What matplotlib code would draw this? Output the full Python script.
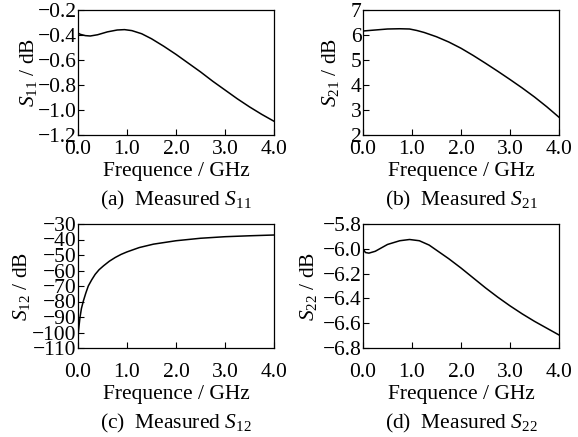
import matplotlib
matplotlib.use("Agg")
import matplotlib.pyplot as plt
from matplotlib.ticker import FuncFormatter

DPI = 100
FONT_SIZE = 15.5

plt.rcParams["font.family"] = ["Liberation Serif", "DejaVu Serif"]
plt.rcParams["mathtext.fontset"] = "custom"
plt.rcParams["mathtext.rm"] = "Liberation Serif"
plt.rcParams["mathtext.it"] = "Liberation Serif:italic"
plt.rcParams["font.size"] = FONT_SIZE

freq_s11 = [0.0, 0.05, 0.15, 0.25, 0.4, 0.6, 0.8, 0.95, 1.1, 1.3, 1.5, 1.75,
            2.0, 2.25, 2.5, 2.75, 3.0, 3.25, 3.5, 3.75, 4.0]
s11 = [-0.385, -0.395, -0.405, -0.408, -0.398, -0.375, -0.36, -0.357, -0.365,
       -0.39, -0.43, -0.49, -0.555, -0.625, -0.695, -0.77, -0.84, -0.91,
       -0.975, -1.035, -1.09]

freq_s21 = [0.0, 0.25, 0.5, 0.75, 0.95, 1.1, 1.25, 1.5, 1.75, 2.0, 2.25, 2.5,
            2.75, 3.0, 3.25, 3.5, 3.75, 4.0]
s21 = [6.16, 6.2, 6.24, 6.25, 6.24, 6.18, 6.1, 5.93, 5.72, 5.47, 5.18, 4.87,
       4.55, 4.22, 3.88, 3.52, 3.13, 2.71]

freq_s12 = [0.0, 0.02, 0.04, 0.07, 0.11, 0.16, 0.21, 0.28, 0.35, 0.43, 0.52,
            0.64, 0.76, 0.88, 1.0, 1.25, 1.54, 2.0, 2.5, 3.0, 3.5, 4.0]
s12 = [-102, -96, -90.4, -84.5, -79.6, -74.5, -70, -66, -62.5, -59.5, -57,
       -54, -51.6, -49.6, -48, -45.2, -43, -40.8, -39.2, -38.2, -37.6, -37.1]

freq_s22 = [0.0, 0.05, 0.12, 0.25, 0.5, 0.75, 0.95, 1.15, 1.35, 1.55, 1.75,
            2.0, 2.25, 2.5, 2.75, 3.0, 3.25, 3.5, 3.75, 4.0]
s22 = [-6.0, -6.03, -6.035, -6.02, -5.965, -5.935, -5.925, -5.935, -5.97,
       -6.025, -6.08, -6.155, -6.235, -6.315, -6.39, -6.46, -6.525, -6.585,
       -6.64, -6.695]

x_ticks = [0.0, 1.0, 2.0, 3.0, 4.0]
yticks_s11 = [-1.2, -1.0, -0.8, -0.6, -0.4, -0.2]
yticks_s21 = [2, 3, 4, 5, 6, 7]
yticks_s12 = [-110, -100, -90, -80, -70, -60, -50, -40, -30]
yticks_s22 = [-6.8, -6.6, -6.4, -6.2, -6.0, -5.8]


def minus_formatter(fmt):
    # echtes Minuszeichen wie in der Vorlage
    return FuncFormatter(lambda v, pos: (fmt % v).replace("-", "\u2212"))


def draw_panel(fig, rect, freq, values, yticks, yfmt, name, letter,
               xpad, ylabel_x, xlabel_y, caption_y):
    ax = fig.add_axes(rect)
    ax.plot(freq, values, color="black", linewidth=1.1)

    ax.set_xlim(0, 4)
    ax.set_ylim(yticks[0], yticks[-1])
    ax.set_xticks(x_ticks)
    ax.set_yticks(yticks)
    ax.xaxis.set_major_formatter(minus_formatter("%.1f"))
    ax.yaxis.set_major_formatter(minus_formatter(yfmt))

    ax.tick_params(direction="in", length=4, width=0.8, labelsize=FONT_SIZE,
                   top=False, right=False)
    ax.tick_params(axis="x", pad=xpad)
    ax.tick_params(axis="y", pad=1)
    for spine in ax.spines.values():
        spine.set_linewidth(0.9)

    ax.set_ylabel(rf"$S_{{{name}}}$ / dB", fontsize=FONT_SIZE)
    ax.yaxis.set_label_coords(ylabel_x, 0.5)
    ax.yaxis.label.set_va("center")

    ax.set_xlabel("Frequence / GHz", fontsize=FONT_SIZE)
    ax.xaxis.set_label_coords(0.5, xlabel_y)
    ax.xaxis.label.set_va("center")

    ax.text(0.5, caption_y, rf"({letter})  Measured $S_{{{name}}}$",
            transform=ax.transAxes, ha="center", va="center",
            fontsize=FONT_SIZE)
    return ax


def main():
    fig = plt.figure(figsize=(5.78, 4.37), dpi=DPI)

    w = 196 / 578
    h_top = 125 / 437
    h_bot = 124 / 437

    draw_panel(fig, [78 / 578, 1 - 135 / 437, w, h_top], freq_s11, s11,
               yticks_s11, "%.1f", "11", "a",
               xpad=3.5, ylabel_x=-0.255, xlabel_y=-0.294, caption_y=-0.52)
    draw_panel(fig, [363 / 578, 1 - 135 / 437, w, h_top], freq_s21, s21,
               yticks_s21, "%d", "21", "b",
               xpad=3.5, ylabel_x=-0.168, xlabel_y=-0.294, caption_y=-0.52)
    draw_panel(fig, [78 / 578, 1 - 348 / 437, w, h_bot], freq_s12, s12,
               yticks_s12, "%d", "12", "c",
               xpad=11, ylabel_x=-0.286, xlabel_y=-0.375, caption_y=-0.605)
    draw_panel(fig, [363 / 578, 1 - 348 / 437, w, h_bot], freq_s22, s22,
               yticks_s22, "%.1f", "22", "d",
               xpad=11, ylabel_x=-0.28, xlabel_y=-0.375, caption_y=-0.605)

    fig.savefig("out.png", dpi=DPI)
    plt.close(fig)


if __name__ == "__main__":
    main()
